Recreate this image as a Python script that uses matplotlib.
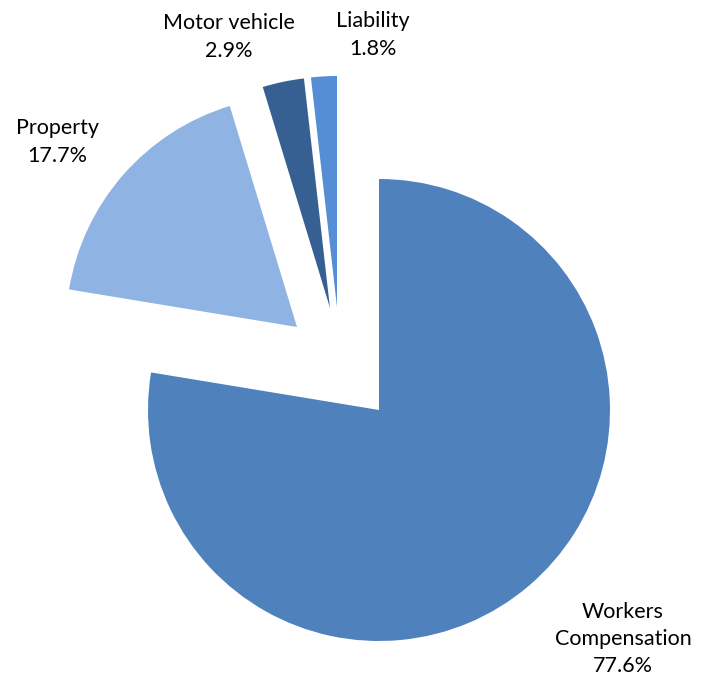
import matplotlib
matplotlib.use("Agg")
import matplotlib.pyplot as plt
from matplotlib.patches import Wedge

labels = ["Workers\nCompensation", "Property", "Motor vehicle", "Liability"]
shares = [77.6, 17.7, 2.9, 1.8]
colors = ["#4f81bd", "#8fb3e2", "#366092", "#558ed5"]

# layout in pixels (y up), figure is 704x689
W, H = 704, 689
cx, cy = 379, H - 410
R = 231
offsets = [(0, 0), (-82, 83), (-49, 102), (-42, 103)]
label_pos = [(623, H - 639), (57, H - 142), (229, H - 37), (373, H - 35)]

fig = plt.figure(figsize=(W / 100, H / 100), dpi=100)
ax = fig.add_axes([0, 0, 1, 1])
ax.set_xlim(0, W)
ax.set_ylim(0, H)
ax.set_aspect("equal")
ax.axis("off")

total = sum(shares)
start = 0.0
for i, s in enumerate(shares):
    end = start + s / total * 360
    dx, dy = offsets[i]
    w = Wedge((cx + dx, cy + dy), R, 90 - end, 90 - start,
              facecolor=colors[i], edgecolor="none")
    ax.add_patch(w)
    start = end

for lab, s, (x, y) in zip(labels, shares, label_pos):
    ax.text(x, y, f"{lab}\n{s:.1f}%", ha="center", va="center",
            fontsize=15.5, family="Lato", linespacing=1.45, color="black")

fig.savefig("out.png", dpi=100)
